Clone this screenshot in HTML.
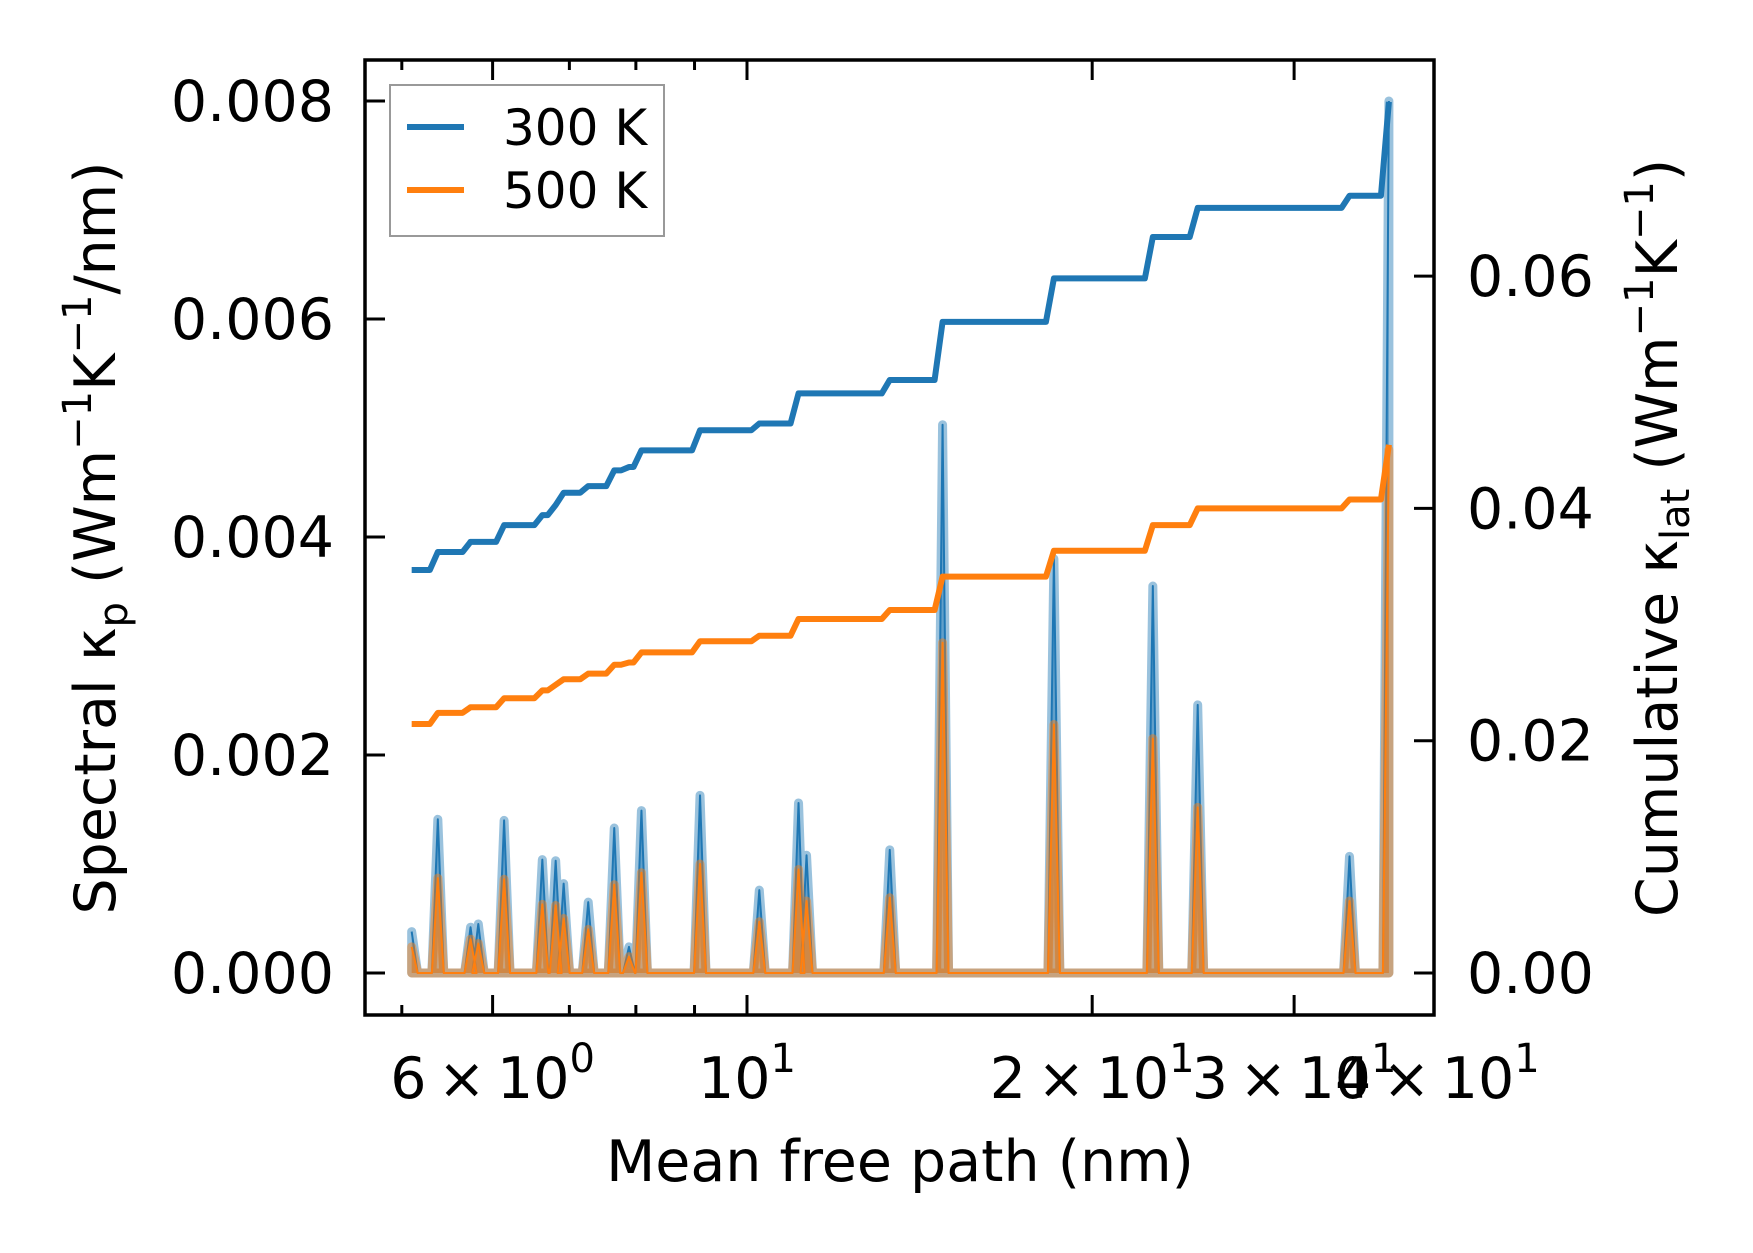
<!DOCTYPE html>
<html><head><meta charset="utf-8"><style>
html,body{margin:0;padding:0;background:#fff;}
svg{display:block;font-family:"DejaVu Sans","Liberation Sans",sans-serif;}
</style></head><body>
<svg id="chart" width="1753" height="1253" viewBox="0 0 1753 1253" xmlns="http://www.w3.org/2000/svg">
<rect width="1753" height="1253" fill="#fff"/>
<g id="plot"></g>
<g id="axes"></g>
</svg>
<script>
// ---- data ----
const mfp = [5.10,5.375,5.74,5.83,6.14,6.63,6.81,6.92,7.27,7.66,7.89,8.09,9.10,10.25,11.09,11.27,13.32,14.81,18.52,22.59,24.72,33.53,36.29];
const spectral300 = [0.00038,0.00141,0.00042,0.00045,0.0014,0.00104,0.00103,0.00082,0.00065,0.00133,0.00024,0.00149,0.00163,0.00076,0.00156,0.00108,0.00113,0.00503,0.0038,0.00355,0.00246,0.00107,0.008];
const spectral500 = [0.00024,0.00087,0.00031,0.00027,0.00086,0.00063,0.00062,0.0005,0.0004,0.00081,0.00015,0.00092,0.001,0.00047,0.00095,0.00066,0.00069,0.00303,0.00228,0.00215,0.00152,0.00066,0.0048];
const cumul300 = [0.0347,0.03625,0.03712,0.03712,0.03856,0.03942,0.04029,0.04135,0.04192,0.04327,0.04356,0.045,0.04673,0.04731,0.0499,0.0499,0.05106,0.05606,0.0598,0.06337,0.06587,0.06692,0.075];
const cumul500 = [0.02144,0.0224,0.02288,0.02288,0.02365,0.02433,0.02481,0.02529,0.02577,0.02654,0.02673,0.0276,0.02856,0.02904,0.03048,0.03048,0.03125,0.03413,0.03635,0.03856,0.04,0.04077,0.04548];
const leftTicks = [0,0.002,0.004,0.006,0.008];
const leftTickLabels = ["0.000","0.002","0.004","0.006","0.008"];
const rightTicks = [0,0.02,0.04,0.06];
const rightTickLabels = ["0.00","0.02","0.04","0.06"];
const xMajor = [6,10,20,30,40];
const xMajorMant = ["6","","2","3","4"];
const xMajorExp = ["0","1","1","1","1"];
const xMinor = [5,7,8,9];

// ---- scales ----
const L=365,R=1434,T=60,B=1015;
const xs = v => 747 + 498*Math.log(v/10);
const yl = v => 973 - v/0.002*218;
const yr = v => 973 - v/0.02*232.3;
const NS="http://www.w3.org/2000/svg";
function mk(tag,attrs,parent){const e=document.createElementNS(NS,tag);for(const k in attrs)e.setAttribute(k,attrs[k]);parent.appendChild(e);return e;}
const plot=document.getElementById('plot'), axes=document.getElementById('axes');
const D=0.012;

function spikePts(vals){
  const pts=[[xs(mfp[0]),yl(vals[0])]];
  for(let i=1;i<mfp.length;i++){
    pts.push([xs(mfp[i]*Math.exp(-D)),yl(0)]);
    pts.push([xs(mfp[i]),yl(vals[i])]);
    if(i<mfp.length-1)pts.push([xs(mfp[i]*Math.exp(D)),yl(0)]);
  }
  pts.splice(1,0,[xs(mfp[0]*Math.exp(D)),yl(0)]);
  return pts;
}
function drawSpectral(vals,color,name){
  const pts=spikePts(vals);
  const s=pts.map(p=>p.join(',')).join(' ');
  const fillS=s+' '+xs(mfp[mfp.length-1])+','+yl(0)+' '+xs(mfp[0])+','+yl(0);
  const f=mk('polygon',{points:fillS,fill:color,'fill-opacity':0.45,stroke:color,'stroke-opacity':0.45,'stroke-width':9,'stroke-linejoin':'round'},plot);
  
  
  const l=mk('polyline',{points:s,fill:'none',stroke:color,'stroke-width':2,'stroke-linejoin':'round'},plot);
  
  
}
function drawCumul(vals,color,name){
  const pts=[[xs(mfp[0]),yr(vals[0])]];
  for(let i=1;i<mfp.length;i++){
    pts.push([xs(mfp[i]*Math.exp(-0.016)),yr(vals[i-1])]);
    pts.push([xs(mfp[i]),yr(vals[i])]);
  }
  const l=mk('polyline',{points:pts.map(p=>p.join(',')).join(' '),fill:'none',stroke:color,'stroke-width':6,'stroke-linejoin':'round'},plot);
  
  
}
drawSpectral(spectral300,'#1f77b4','300k');
drawSpectral(spectral500,'#ff7f0e','500k');
drawCumul(cumul300,'#1f77b4','300k');
drawCumul(cumul500,'#ff7f0e','500k');

// ---- axes ----
const frame=mk('rect',{x:L,y:T,width:R-L,height:B-T,fill:'none',stroke:'#000','stroke-width':3.5},axes);


function tline(x1,y1,x2,y2){mk('line',{x1,y1,x2,y2,stroke:'#000','stroke-width':3},axes);}
function txt(x,y,str,anchor,name){const t=mk('text',{x,y,'font-size':57,'text-anchor':anchor,fill:'#000'},axes);t.textContent=str;return t;}
leftTicks.forEach((v,i)=>{const y=yl(v);tline(L,y,L+20,y);txt(334,y+20,leftTickLabels[i],'end','y-left-tick-label');});
rightTicks.forEach((v,i)=>{const y=yr(v);tline(R-20,y,R,y);txt(1467,y+20,rightTickLabels[i],'start','y-right-tick-label');});
xMinor.forEach(v=>{const x=xs(v);tline(x,B,x,B-10);tline(x,T,x,T+10);});
xMajor.forEach((v,i)=>{const x=xs(v);if(x<=R+1){tline(x,B,x,B-20);tline(x,T,x,T+20);}
  const t=txt(x,1098,'','middle','x-tick-label');
  const m=xMajorMant[i]?xMajorMant[i]+'\u2009\u00d7\u200910':'10';
  const a=mk('tspan',{},t);a.textContent=m;
  const b=mk('tspan',{'font-size':40,dy:-26},t);b.textContent=xMajorExp[i];
});
txt(900,1181,'Mean free path (nm)','middle','x-axis-title');
const yt=txt(0,0,'','middle','y-left-axis-title');yt.setAttribute('transform','translate(115,538) rotate(-90)');
yt.innerHTML='Spectral κ<tspan font-size="40" dy="12">p</tspan><tspan dy="-12"> (Wm</tspan><tspan font-size="40" dy="-24">−1</tspan><tspan dy="24">K</tspan><tspan font-size="40" dy="-24">−1</tspan><tspan dy="24">/nm)</tspan>';
const yt2=txt(0,0,'','middle','y-right-axis-title');yt2.setAttribute('transform','translate(1677,538) rotate(-90)');
yt2.innerHTML='Cumulative κ<tspan font-size="40" dy="12">lat</tspan><tspan dy="-12"> (Wm</tspan><tspan font-size="40" dy="-24">−1</tspan><tspan dy="24">K</tspan><tspan font-size="40" dy="-24">−1</tspan><tspan dy="24">)</tspan>';

// ---- legend ----
const lg=mk('g',{},axes);


mk('rect',{x:390,y:85,width:274,height:151,fill:'#fff',stroke:'#999','stroke-width':2},lg);
[['#1f77b4','300 K',127,'legend-entry-300k'],['#ff7f0e','500 K',190,'legend-entry-500k']].forEach(e=>{
  const g=mk('g',{},lg);
  
  
  mk('line',{x1:407,y1:e[2],x2:464,y2:e[2],stroke:e[0],'stroke-width':6},g);
  const t=mk('text',{x:503,y:e[2]+18,'font-size':50,fill:'#000'},g);t.textContent=e[1];
});
</script>
</body></html>
